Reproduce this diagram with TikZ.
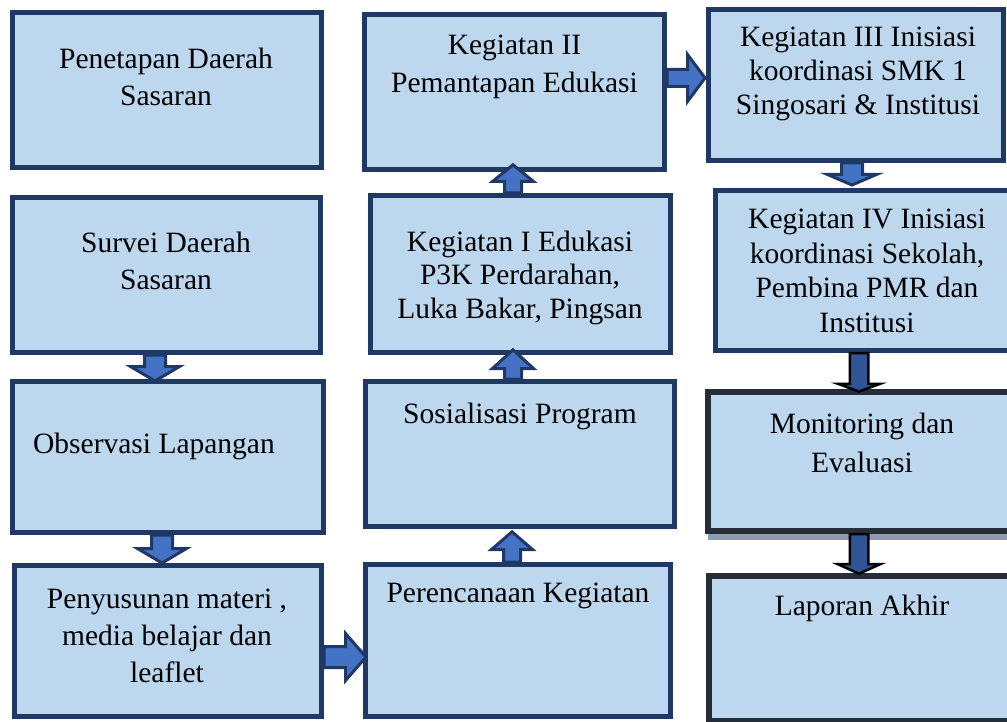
\documentclass[tikz,border=0pt]{standalone}
\usepackage{fontspec}
\setmainfont{Liberation Serif}
\usetikzlibrary{calc,shadows}
\definecolor{boxfill}{HTML}{BDD7EE}
\definecolor{boxline}{HTML}{203864}
\definecolor{darkline}{HTML}{252D38}
\definecolor{arrfill}{HTML}{4472C4}
\definecolor{arrfilldk}{HTML}{2F5597}
\definecolor{shadowc}{HTML}{8D9AB0}
\tikzset{
  bluebox/.style={draw=boxline, fill=boxfill, line width=5pt, rectangle, inner sep=0pt},
  darkbox/.style={draw=darkline, fill=boxfill, line width=6pt, rectangle, inner sep=0pt},
  boxtext/.style={anchor=north, align=center, inner sep=0pt, text=black},
  bluearrow/.style={draw=boxline, fill=arrfill, line width=3pt, line join=miter},
  darkarrow/.style={draw=black, fill=arrfilldk, line width=2.5pt, line join=miter},
}
% #1 style, #2 from, #3 to, #4 shaft half width, #5 head half width, #6 head length
\newcommand\blockarrow[6]{%
  \coordinate (bas) at #2;
  \coordinate (bae) at #3;
  \coordinate (bah) at ($(bae)!#6!(bas)$);
  \draw[#1] ($(bas)!#4!90:(bae)$) -- ($(bah)!#4!90:(bae)$) -- ($(bah)!#5!90:(bae)$)
    -- (bae) -- ($(bah)!#5!-90:(bae)$) -- ($(bah)!#4!-90:(bae)$)
    -- ($(bas)!#4!-90:(bae)$) -- cycle;
}
\newcommand\tf[1]{\fontsize{29.5}{#1}\selectfont}
\begin{document}
\begin{tikzpicture}[x=1pt,y=-1pt]
\useasboundingbox (0,0) rectangle (1007,722);
\clip (0,0) rectangle (1007,722);
\fill[white] (0,0) rectangle (1007,722);
% left column
\node[bluebox, minimum width=309, minimum height=155] (b1) at (167,90) {};
\node[bluebox, minimum width=308, minimum height=155] (b2) at (166.5,275) {};
\node[bluebox, minimum width=311, minimum height=151] (b3) at (168,457) {};
\node[bluebox, minimum width=307, minimum height=151] (b4) at (168,641) {};
% middle column
\node[bluebox, minimum width=300, minimum height=155] (m2) at (514.5,92) {};
\node[bluebox, minimum width=300, minimum height=157] (m1) at (520.5,274) {};
\node[bluebox, minimum width=309, minimum height=145] (ms) at (520,454) {};
\node[bluebox, minimum width=305, minimum height=152] (mp) at (518,640.5) {};
% right column
\node[bluebox, minimum width=295, minimum height=151] (r3) at (856,85) {};
\node[bluebox, minimum width=297, minimum height=160] (r4) at (864,270.5) {};
\node[darkbox, minimum width=304, minimum height=139,
  drop shadow={shadow xshift=0pt, shadow yshift=-9pt, fill=shadowc, opacity=1}] (rm) at (860,461.5) {};
\node[darkbox, minimum width=303, minimum height=145] (rl) at (860.5,648.5) {};
% texts
\node[boxtext, font=\tf{37}] (t1) at (166,47.9) {Penetapan Daerah\\Sasaran};
\node[boxtext, font=\tf{37}] (t2) at (166,231.9) {Survei Daerah\\Sasaran};
\node[boxtext, font=\tf{37}] (t3) at (154,432.9) {Observasi Lapangan};
\node[boxtext, font=\tf{37}] (t4) at (167,588.9) {Penyusunan materi ,\\media belajar dan\\leaflet};
\node[boxtext, font=\tf{38}] (tm2) at (514.5,34.9) {Kegiatan II\\Pemantapan Edukasi};
\node[boxtext, font=\tf{33.5}] (tm1) at (520,230.4) {Kegiatan I Edukasi\\P3K Perdarahan,\\Luka Bakar, Pingsan};
\node[boxtext, font=\tf{37}] (tms) at (520,402.9) {Sosialisasi Program};
\node[boxtext, font=\tf{37}] (tmp) at (518,582.9) {Perencanaan Kegiatan};
\node[boxtext, font=\tf{34}] (tr3) at (858,26.9) {Kegiatan III Inisiasi\\koordinasi SMK 1\\Singosari \& Institusi};
\node[boxtext, font=\tf{34.5}] (tr4) at (867,208.9) {Kegiatan IV Inisiasi\\koordinasi Sekolah,\\Pembina PMR dan\\Institusi};
\node[boxtext, font=\tf{39}] (trm) at (862,412.9) {Monitoring dan\\Evaluasi};
\node[boxtext, font=\tf{37}] (trl) at (862,594.9) {Laporan Akhir};
% arrows
\blockarrow{bluearrow}{([xshift=-11.5pt]b2.south)}{([yshift=-2pt]b3.north -| bas)}{10.5pt}{24.5pt}{14.5pt}
\blockarrow{bluearrow}{([xshift=-6pt]b3.south)}{(b4.north -| bas)}{10.5pt}{24.5pt}{14.5pt}
\blockarrow{bluearrow}{([yshift=-16pt]b4.east)}{([xshift=3pt]mp.west |- bas)}{10.5pt}{23.5pt}{20.5pt}
\blockarrow{bluearrow}{([xshift=-6pt]mp.north)}{([yshift=-2.8pt]ms.south -| bas)}{8.5pt}{20.5pt}{17.7pt}
\blockarrow{bluearrow}{([xshift=-7pt]ms.north)}{([yshift=5.2pt]m1.south -| bas)}{8.5pt}{20.5pt}{18.7pt}
\blockarrow{bluearrow}{([xshift=-7.5pt]m1.north)}{([yshift=7.2pt]m2.south -| bas)}{8.5pt}{20.5pt}{16.7pt}
\blockarrow{bluearrow}{([yshift=14pt]m2.east)}{([xshift=-1pt]r3.west |- bas)}{8.5pt}{23.5pt}{17.5pt}
\blockarrow{bluearrow}{([xshift=-4pt]r3.south)}{([yshift=3pt]r4.north -| bas)}{10.5pt}{24.5pt}{10.5pt}
\blockarrow{darkarrow}{([xshift=-5pt]r4.south)}{([yshift=-2.5pt]rm.north -| bas)}{9.25pt}{21.25pt}{7.75pt}
\blockarrow{darkarrow}{([xshift=-1pt]rm.south)}{([yshift=-0.7pt]rl.north -| bas)}{9.25pt}{21.25pt}{9.5pt}
\end{tikzpicture}
\end{document}
